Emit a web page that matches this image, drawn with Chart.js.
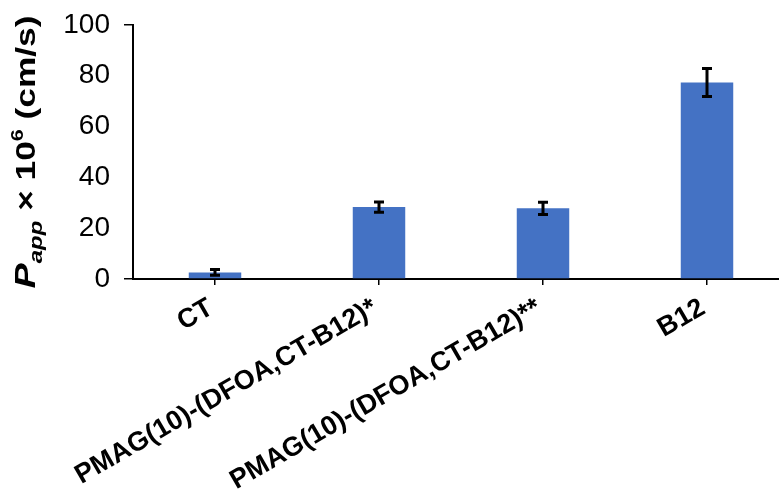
<!DOCTYPE html>
<html>
<head>
<meta charset="utf-8">
<script src="https://cdn.jsdelivr.net/npm/chart.js@4.4.1/dist/chart.umd.min.js"></script>
<style>
  html, body { margin: 0; padding: 0; background: #fff; overflow: hidden; }
  #wrap { width: 789px; height: 503px; margin-top: -6px; }
</style>
</head>
<body>
<div id="wrap"><canvas id="chart"></canvas></div>
<script>
const categories = ["CT", "PMAG(10)-(DFOA,CT-B12)*", "PMAG(10)-(DFOA,CT-B12)**", "B12"];
const values = [2.6, 28.3, 27.8, 77.3];
const errors = [1.1, 2.0, 2.4, 5.5];
const yTicks = [0, 20, 40, 60, 80, 100];

// draws the error bars from the bar positions
const errorBars = {
  id: "errorBars",
  afterDatasetsDraw(chart) {
    const ctx = chart.ctx;
    const meta = chart.getDatasetMeta(0);
    const y = chart.scales.y;
    ctx.save();
    ctx.strokeStyle = "#000";
    ctx.lineWidth = 3;
    meta.data.forEach((bar, i) => {
      const top = y.getPixelForValue(values[i] + errors[i]);
      const bottom = y.getPixelForValue(values[i] - errors[i]);
      ctx.beginPath();
      ctx.moveTo(bar.x, top);
      ctx.lineTo(bar.x, bottom);
      ctx.moveTo(bar.x - 5, top);
      ctx.lineTo(bar.x + 5, top);
      ctx.moveTo(bar.x - 5, bottom);
      ctx.lineTo(bar.x + 5, bottom);
      ctx.stroke();
    });
    ctx.restore();
  }
};

// y axis title with italic subscript and superscript
const yTitle = {
  id: "yTitle",
  afterDraw(chart) {
    const ctx = chart.ctx;
    const parts = [
      { t: "P", font: "italic bold 30px 'Liberation Sans', Arial", dy: 0 },
      { t: "app", font: "italic bold 19px 'Liberation Sans', Arial", dy: 7 },
      { t: " \u00d7 10", font: "bold 28px 'Liberation Sans', Arial", dy: 0 },
      { t: "6", font: "bold 17px 'Liberation Sans', Arial", dy: -12 },
      { t: " (cm/s)", font: "bold 28px 'Liberation Sans', Arial", dy: 0 }
    ];
    let total = 0;
    parts.forEach(p => { ctx.font = p.font; p.w = ctx.measureText(p.t).width; total += p.w; });
    ctx.save();
    ctx.translate(35, 158);
    ctx.rotate(-Math.PI / 2);
    ctx.scale(1.26, 1);
    ctx.fillStyle = "#000";
    ctx.textBaseline = "alphabetic";
    let x = -total / 2;
    parts.forEach(p => {
      ctx.font = p.font;
      ctx.fillText(p.t, x, p.dy);
      x += p.w;
    });
    ctx.restore();
  }
};

const config = {
  type: "bar",
  data: {
    labels: categories,
    datasets: [
      {
        data: values,
        backgroundColor: "#4472C4",
        categoryPercentage: 1,
        barPercentage: 0.32,
      },
    ],
  },
  options: {
    responsive: true,
    maintainAspectRatio: false,
    animation: false,
    layout: { padding: { top: 6, right: 0, left: 0, bottom: 0 } },
    plugins: {
      legend: { display: false },
      tooltip: { enabled: false },
    },
    scales: {
      x: {
        grid: {
          display: true,
          drawOnChartArea: false,
          offset: false,
          color: "#000",
          tickLength: 6,
          lineWidth: 1.5,
        },
        border: { display: true, color: "#000", width: 2 },
        ticks: {
          color: "#000",
          font: { family: "'Liberation Sans', Arial", weight: "bold", size: 27 },
          minRotation: 30,
          maxRotation: 30,
          autoSkip: false,
          padding: 7,
          labelOffset: -4,
        },
        afterFit(scale) { scale.height = 218; },
      },
      y: {
        min: 0,
        max: 100,
        afterBuildTicks(scale) { scale.ticks = yTicks.map(v => ({ value: v })); },
        grid: {
          display: true,
          drawOnChartArea: false,
          tickLength: 9,
          lineWidth: 1.5,
          color: (c) => (c.tick && (c.tick.value === 0 || c.tick.value === 100) ? "#000" : "rgba(0,0,0,0)"),
        },
        border: { display: true, color: "#000", width: 2 },
        ticks: {
          color: "#000",
          font: { family: "'Liberation Sans', Arial", size: 28 },
          padding: 14,
        },
        afterFit(scale) { scale.width = 133; },
      },
    },
  },
  plugins: [errorBars, yTitle],
};

const chartJs = document.querySelector("#chart");
let mychart = new Chart(chartJs, config);
</script>
</body>
</html>
